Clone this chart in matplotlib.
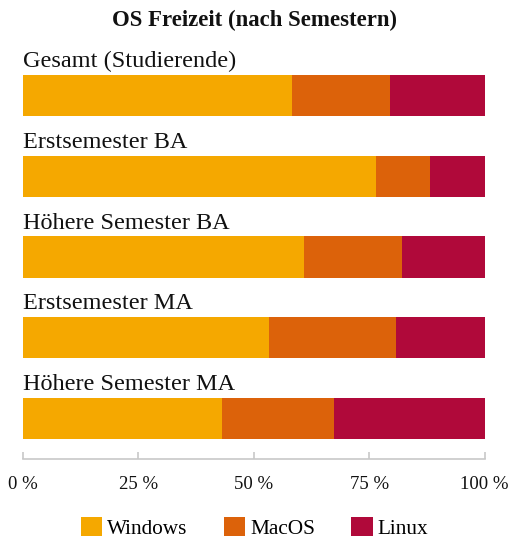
import matplotlib
matplotlib.use("Agg")
import matplotlib.pyplot as plt
import numpy as np
from matplotlib.patches import Patch

categories = ["Gesamt (Studierende)", "Erstsemester BA", "Höhere Semester BA",
              "Erstsemester MA", "Höhere Semester MA"]
series_names = ["Windows", "MacOS", "Linux"]
windows = [58.3, 76.5, 60.9, 53.3, 43.1]
macos = [21.2, 11.7, 21.2, 27.5, 24.3]
linux = [20.5, 11.8, 17.9, 19.2, 32.6]
colors = ["#F5A800", "#DC620A", "#B0093A"]
tick_vals = [0, 25, 50, 75, 100]
tick_labels = ["0 %", "25 %", "50 %", "75 %", "100 %"]

plt.rcParams['font.family'] = ['Liberation Serif', 'DejaVu Serif']

W, H = 509, 543
fig = plt.figure(figsize=(W/100, H/100), dpi=100)
left = 23 / W
right = 484.7 / W
bottom = (H - 459) / H
top = (H - 22.8) / H
ax = fig.add_axes([left, bottom, right - left, top - bottom])

y = np.arange(len(categories))
h = 0.51
starts = np.zeros(len(categories))
for vals, c in zip([windows, macos, linux], colors):
    ax.barh(y, vals, left=starts, height=h, color=c, linewidth=0)
    starts = starts + np.array(vals)

for i, cat in enumerate(categories):
    ax.text(0, i - 0.353, cat, ha='left', va='baseline', fontsize=17.5, color='#111111')

ax.set_xlim(0, 100)
ax.set_ylim(4.5, -0.9)
ax.set_yticks([])
for s in ['top', 'right', 'left']:
    ax.spines[s].set_visible(False)
ax.spines['bottom'].set_color('#C8C8C8')
ax.spines['bottom'].set_linewidth(1.2)
ax.set_xticks(tick_vals)
ax.set_xticklabels(tick_labels)
ax.tick_params(axis='x', direction='in', length=5, width=1.2, color='#C8C8C8',
               labelsize=13.5, pad=12.5, labelcolor='#111111')

fig.text(0.5, (H - 20) / H, "OS Freizeit (nach Semestern)", ha='center', va='center',
         fontsize=16.4, fontweight='bold', color='#111111')

handles = [Patch(facecolor=c, edgecolor='none', label=n) for c, n in zip(colors, series_names)]
fig.legend(handles=handles, loc='center', bbox_to_anchor=(0.5, (H - 528) / H), ncol=3,
           frameon=False, fontsize=15.3, handlelength=1.0, handleheight=1.0,
           columnspacing=1.7, handletextpad=0.25)

fig.savefig("out.png", dpi=100)
